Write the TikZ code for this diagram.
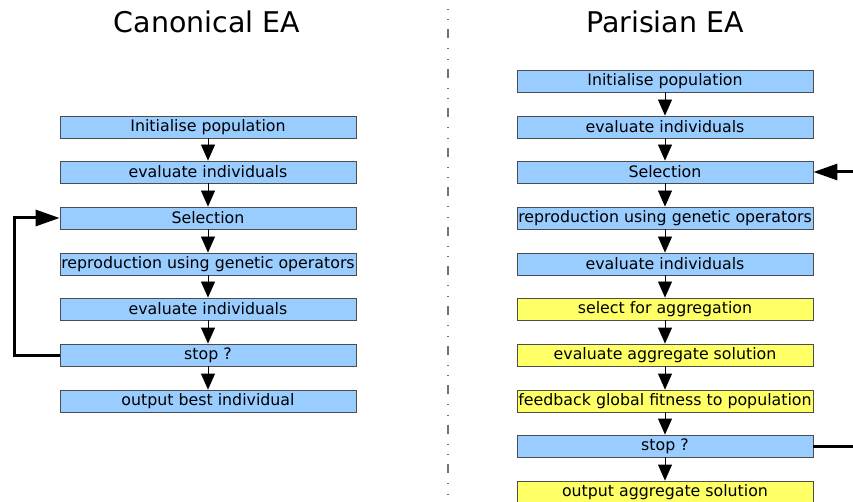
\documentclass[tikz,border=0pt]{standalone}
\usepackage{fontspec}
\setmainfont{DejaVu Sans}
\usetikzlibrary{arrows.meta}
\begin{document}
\begin{tikzpicture}[x=1pt,y=-1pt,
  stepbox/.style={draw=black!70,line width=0.8pt,minimum width=296pt,minimum height=22pt,inner sep=0pt,font=\fontsize{15.8}{18}\selectfont},
  blue box/.style={stepbox,fill={rgb,255:red,153;green,204;blue,255}},
  yellow box/.style={stepbox,fill={rgb,255:red,255;green,255;blue,102}},
  flow/.style={line width=0.8pt,-{Triangle[length=16pt,width=14pt]}},
  loop/.style={line width=3pt,-{Triangle[length=24pt,width=16pt]}},
  title/.style={font=\fontsize{28.5}{32}\selectfont}]
\useasboundingbox (0,0) rectangle (853,502);
\node[title] (t1) at (207,22) {Canonical EA};
\node[title] (t2) at (665,22) {Parisian EA};
\draw[black!55,line width=1.2pt,dash pattern=on 9pt off 10pt on 1pt off 9.5pt on 1pt off 9pt] (448,-10) -- (448,510);
% left
\node[blue box] (a1) at (208,127) {Initialise population};
\node[blue box] (a2) at (208,172) {evaluate individuals};
\node[blue box] (a3) at (208,218) {Selection};
\node[blue box] (a4) at (208,264) {reproduction using genetic operators};
\node[blue box] (a5) at (208,309) {evaluate individuals};
\node[blue box] (a6) at (208,355) {stop ?};
\node[blue box] (a7) at (208,401) {output best individual};
\foreach \i/\j in {1/2,2/3,3/4,4/5,5/6,6/7}{\draw[flow] (a\i.south) -- (a\j.north);}
\coordinate (lc) at (14,355);
\draw[loop] (a6.west) -- (lc) -- (lc |- a3.west) -- (a3.west);
% right
\node[blue box] (b1) at (665,81) {Initialise population};
\node[blue box] (b2) at (665,127) {evaluate individuals};
\node[blue box] (b3) at (665,172) {Selection};
\node[blue box] (b4) at (665,218) {reproduction using genetic operators};
\node[blue box] (b5) at (665,264) {evaluate individuals};
\node[yellow box] (b6) at (665,309) {select for aggregation};
\node[yellow box] (b7) at (665,355) {evaluate aggregate solution};
\node[yellow box] (b8) at (665,401) {feedback global fitness to population};
\node[blue box] (b9) at (665,446) {stop ?};
\node[yellow box] (b10) at (665,492) {output aggregate solution};
\foreach \i/\j in {1/2,2/3,3/4,4/5,5/6,6/7,7/8,8/9,9/10}{\draw[flow] (b\i.south) -- (b\j.north);}
\coordinate (re) at (860,446);
\coordinate (rs) at (860,172);
\draw[line width=3pt] (b9.east) -- (re);
\draw[loop] (rs) -- (b3.east);
\end{tikzpicture}
\end{document}
